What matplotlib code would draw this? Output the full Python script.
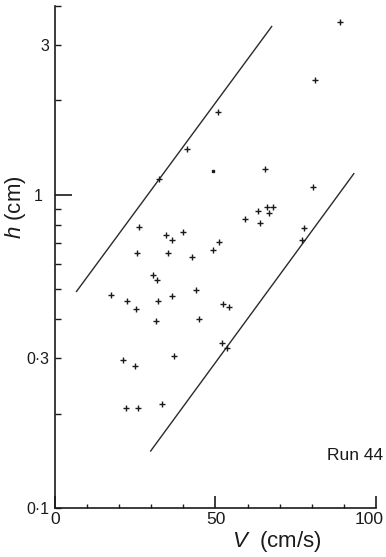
import matplotlib
matplotlib.use("Agg")
import matplotlib.pyplot as plt
from matplotlib.ticker import FixedFormatter
import matplotlib.transforms as mtransforms

plt.rcParams['font.family'] = ['Liberation Sans', 'DejaVu Sans']
plt.rcParams['mathtext.fontset'] = 'custom'
plt.rcParams['mathtext.it'] = 'Liberation Sans:italic'
plt.rcParams['mathtext.rm'] = 'Liberation Sans'

# Run 44 measurements: flow velocity V (cm/s) and depth h (cm)
velocity = [88.9, 81.1, 50.9, 41.2, 65.5, 32.3, 80.5,
            26.1, 34.5, 36.5, 40.0, 25.4, 35.3, 42.7, 49.1, 51.1,
            59.1, 63.3, 64.0, 66.1, 66.6, 68.0, 77.5, 76.9,
            30.4, 31.7, 44.0, 17.4, 22.4, 25.2, 32.2, 36.4, 52.3, 54.1,
            31.6, 44.9, 52.1, 53.6, 37.1, 21.1, 24.8, 22.1, 25.9, 33.4]
depth = [3.55, 2.32, 1.84, 1.40, 1.21, 1.12, 1.055,
         0.79, 0.741, 0.715, 0.758, 0.65, 0.651, 0.632, 0.666, 0.706,
         0.834, 0.889, 0.814, 0.913, 0.874, 0.913, 0.785, 0.715,
         0.556, 0.535, 0.497, 0.478, 0.458, 0.432, 0.458, 0.475, 0.449, 0.438,
         0.395, 0.40, 0.337, 0.324, 0.305, 0.297, 0.284, 0.209, 0.209, 0.215]

# single faint observation
dot_velocity = [49.2]
dot_depth = [1.19]

# envelope lines (end points)
upper_v = [6.7, 67.5]
upper_h = [0.491, 3.44]
lower_v = [29.8, 93.1]
lower_h = [0.152, 1.167]

x_major = [0, 50, 100]
x_major_labels = ['0', '50', '100']
x_minor = [10, 20, 30, 40, 60, 70, 80, 90]
y_major = [1]
y_minor = [0.1, 0.2, 0.3, 0.4, 0.5, 0.6, 0.7, 0.8, 0.9, 2, 3, 4]
y_minor_labels = ['0\u00b71', '', '0\u00b73', '', '', '', '', '', '', '', '3', '']

W, H = 386, 557
fig = plt.figure(figsize=(W / 100, H / 100), dpi=100)
ax = fig.add_axes([55 / W, 1 - 508 / H, 321 / W, 502 / H])

ink = '#1a1a1a'
ax.plot(upper_v, upper_h, color='#2a2a2a', lw=1.0)
ax.plot(lower_v, lower_h, color='#2a2a2a', lw=1.0)
ax.plot(velocity, depth, linestyle='none', marker='+', ms=4.6, mew=1.0, color=ink)
ax.plot(dot_velocity, dot_depth, linestyle='none', marker='s', ms=1.6, color=ink)

ax.set_yscale('log')
ax.set_xlim(0, 100)
ax.set_ylim(0.1, 4.0)

for side in ('top', 'right'):
    ax.spines[side].set_visible(False)
for side in ('left', 'bottom'):
    ax.spines[side].set_linewidth(1.2)
    ax.spines[side].set_color(ink)

ax.set_xticks(x_major)
ax.set_xticklabels(x_major_labels)
ax.set_xticks(x_minor, minor=True)
ax.set_yticks(y_major)
ax.set_yticklabels(['1'])
ax.set_yticks(y_minor, minor=True)
ax.yaxis.set_minor_formatter(FixedFormatter(y_minor_labels))

ax.tick_params(axis='x', which='major', direction='in', length=8.5, width=1.2,
               color=ink, labelsize=12.5, pad=3, labelcolor=ink)
ax.tick_params(axis='x', which='minor', direction='in', length=3, width=1.0, color=ink)
ax.tick_params(axis='y', which='major', direction='in', length=12, width=1.2,
               color=ink, labelsize=11.5, pad=9, labelcolor=ink)
ax.tick_params(axis='y', which='minor', direction='in', length=4, width=1.0,
               color=ink, labelsize=11.5, pad=4, labelcolor=ink)

# keep the "100" label inside the canvas
lbl100 = ax.get_xticklabels()[-1]
lbl100.set_transform(lbl100.get_transform() +
                     mtransforms.ScaledTranslation(-7 / 100, 0, fig.dpi_scale_trans))

fig.text(277 / W, 1 - 541 / H, r'$V$  (cm/s)', fontsize=16, ha='center', va='center', color=ink)
fig.text(16 / W, 1 - 207 / H, r'$h$ (cm)', fontsize=16, rotation=90,
         ha='center', va='center', color=ink)
fig.text(383 / W, 1 - 456 / H, 'Run 44', fontsize=12.5, ha='right', va='center', color=ink)

fig.savefig('out.png', dpi=100, facecolor='white')
